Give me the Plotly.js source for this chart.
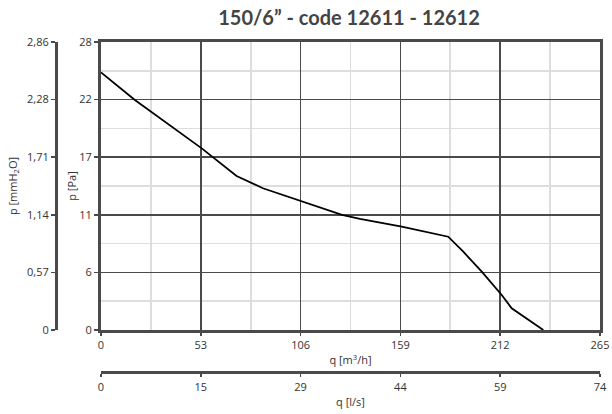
<!DOCTYPE html>
<html>
<head>
<meta charset="utf-8">
<script src="https://cdn.plot.ly/plotly-3.0.1.min.js"></script>
<style>html,body{margin:0;padding:0;background:#fff;}#chart{width:612px;height:414px;}</style>
</head>
<body>
<div id="chart"></div>
<script>
// Flow rate q [m3/h] and static pressure p [Pa]
var flowM3h = [0, 18, 53.5, 72, 86, 106.5, 128, 137.5, 159.7, 184.4, 192.4, 202.2, 212.8, 218.1, 234.9];
var pressPa = [25.05, 22.36, 17.66, 14.97, 13.78, 12.54, 11.2, 10.8, 10.05, 9.07, 7.61, 5.67, 3.40, 2.11, 0];

// Axis ranges and tick labels
var qMax = 265;            // m3/h
var pMax = 28;             // Pa
var qMaxLs = qMax / 3.6;   // l/s
var pMaxMm = pMax / 9.80665; // mmH2O
var xTickText = ['0', '53', '106', '159', '212', '265'];
var yTickText = ['0', '6', '11', '17', '22', '28'];
var x2TickText = ['0', '15', '29', '44', '59', '74'];
var y2TickText = ['0', '0,57', '1,14', '1,71', '2,28', '2,86'];

function steps(max, n) { var a = []; for (var i = 0; i <= n; i++) a.push(max * i / n); return a; }
function halfSteps(max, n) { var a = []; for (var i = 0; i < n; i++) a.push(max * (i + 0.5) / n); return a; }

var W = 612, H = 414;
var mL = 0, mR = 12, mT = 42, mB = 0;
var plotW = W - mL - mR, plotH = H - mT - mB;
var frameLeft = 101, frameBottom = 330;
var axisCol = '#4a4a4a';
var tickFont = {family: 'Open Sans, sans-serif', size: 11, color: '#333'};
var titleFont = {family: 'Open Sans, sans-serif', size: 11, color: '#333'};

var traces = [
  {x: flowM3h, y: pressPa, type: 'scatter', mode: 'lines', line: {color: '#000', width: 1.8},
   xaxis: 'x', yaxis: 'y', showlegend: false, hoverinfo: 'x+y'},
  {x: [], y: [], type: 'scatter', mode: 'lines', xaxis: 'x2', yaxis: 'y2', showlegend: false, hoverinfo: 'skip'}
];

var layout = {
  width: W, height: H,
  margin: {l: mL, r: mR, t: mT, b: mB, pad: 0},
  paper_bgcolor: '#fff', plot_bgcolor: '#fff',
  showlegend: false,
  title: {text: '150/6\u201d - code 12611 - 12612', xref: 'paper', x: (349 - mL) / plotW, xanchor: 'center',
          yref: 'container', y: 1 - 18 / H, yanchor: 'middle',
          font: {family: 'Lato, Open Sans, sans-serif', size: 20, color: '#444', weight: 700}},
  xaxis: {
    domain: [(frameLeft - mL) / plotW, 1], range: [0, qMax], anchor: 'y',
    tickmode: 'array', tickvals: steps(qMax, 5), ticktext: xTickText,
    ticks: 'outside', ticklen: 3, tickwidth: 1.5, tickcolor: axisCol,
    showline: true, linecolor: axisCol, linewidth: 3, mirror: true,
    showgrid: true, gridcolor: axisCol, gridwidth: 1.6,
    minor: {tickmode: 'array', tickvals: halfSteps(qMax, 5), showgrid: true, gridcolor: '#dddddd', gridwidth: 1.6, ticks: ''},
    zeroline: false, tickfont: tickFont, fixedrange: true,
    title: {text: 'q [m<sup>3</sup>/h]', font: titleFont, standoff: 6}
  },
  yaxis: {
    domain: [(H - mB - frameBottom) / plotH, 1], range: [0, pMax], anchor: 'x',
    tickmode: 'array', tickvals: steps(pMax, 5), ticktext: yTickText,
    ticks: 'outside', ticklen: 4, tickwidth: 1.5, tickcolor: axisCol,
    showline: true, linecolor: axisCol, linewidth: 3, mirror: true,
    showgrid: true, gridcolor: axisCol, gridwidth: 1.6,
    minor: {tickmode: 'array', tickvals: halfSteps(pMax, 5), showgrid: true, gridcolor: '#dddddd', gridwidth: 1.6, ticks: ''},
    zeroline: false, tickfont: tickFont, fixedrange: true,
    title: {text: 'p [Pa]', font: titleFont, standoff: 1}
  },
  xaxis2: {
    overlaying: 'x', anchor: 'free', position: (H - mB - 372.3) / plotH, side: 'bottom',
    range: [0, qMaxLs], tickmode: 'array', tickvals: steps(qMaxLs, 5), ticktext: x2TickText,
    ticks: 'outside', ticklen: 3, tickwidth: 1.5, tickcolor: axisCol,
    showline: true, linecolor: axisCol, linewidth: 3, showgrid: false, zeroline: false,
    tickfont: tickFont, fixedrange: true,
    title: {text: 'q [l/s]', font: titleFont, standoff: 5}
  },
  yaxis2: {
    overlaying: 'y', anchor: 'free', position: (56 - mL) / plotW, side: 'left',
    range: [0, pMaxMm], tickmode: 'array', tickvals: steps(pMaxMm, 5), ticktext: y2TickText,
    ticks: 'outside', ticklen: 4, tickwidth: 1.5, tickcolor: axisCol,
    showline: true, linecolor: axisCol, linewidth: 3, showgrid: false, zeroline: false,
    tickfont: tickFont, fixedrange: true,
    title: {text: 'p [mmH<sub>2</sub>O]', font: titleFont, standoff: 6}
  }
};

Plotly.newPlot('chart', traces, layout, {displayModeBar: false, staticPlot: true});
</script>
</body>
</html>
